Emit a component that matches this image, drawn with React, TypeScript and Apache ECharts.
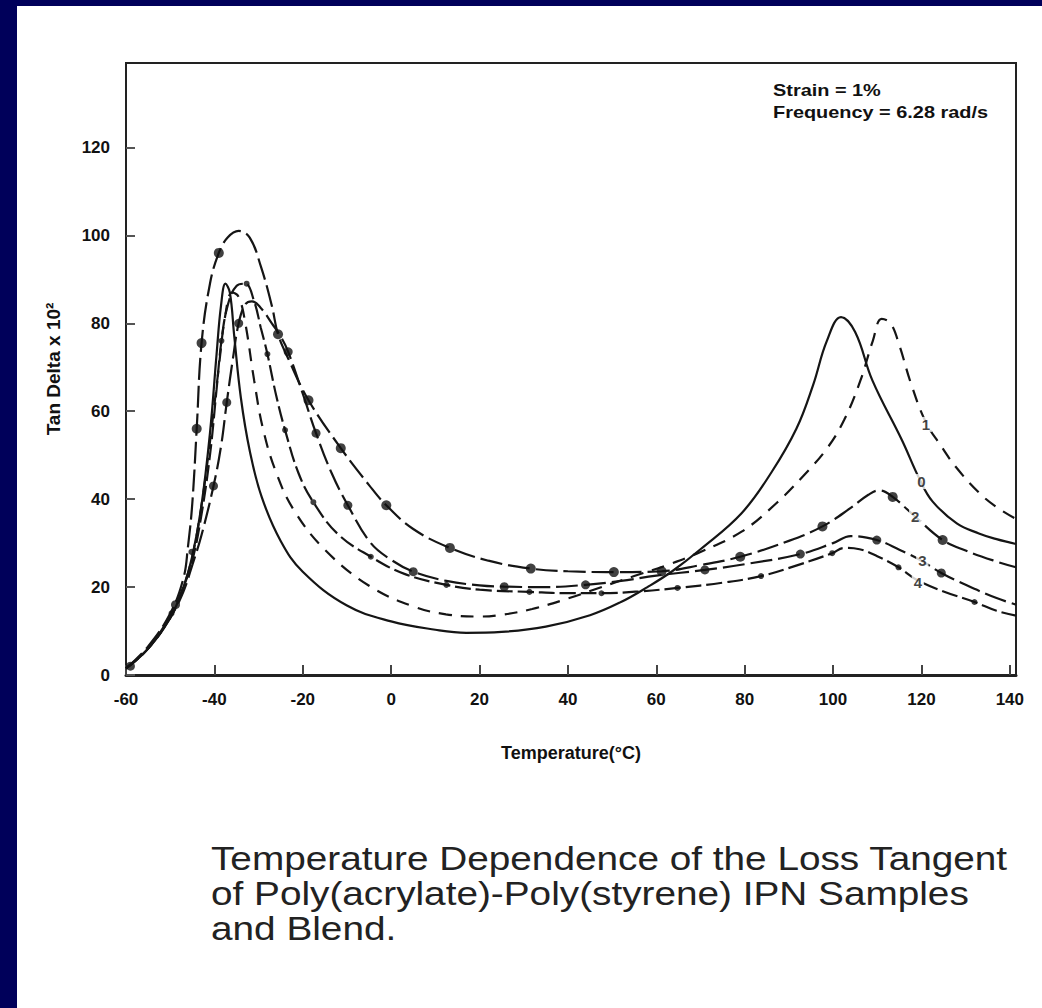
import React, { useEffect, useRef } from "react";
import * as echarts from "echarts";

const xTicks = [-60, -40, -20, 0, 20, 40, 60, 80, 100, 120, 140];
const yTicks = [0, 20, 40, 60, 80, 100, 120];

// curve 0 : solid line
const curve0 = [
  [-60, 1.5], [-55, 6], [-50, 13], [-47, 20], [-45, 27], [-43, 38], [-41, 55], [-39.5, 73], [-38.5, 84],
  [-37.5, 89], [-36.5, 87], [-35.5, 77], [-34, 63], [-32, 51], [-29.3, 40.5], [-25, 30.5], [-20, 23.5],
  [-10, 15.8], [0, 12.2], [10, 10.3], [17, 9.6], [25, 9.8], [35, 11], [45, 13.6], [52, 16.6], [58, 20],
  [63.6, 23.6], [70, 28.6], [79.3, 36.8], [86, 46], [91.7, 56], [95.5, 66], [98.6, 76], [101.8, 81.4],
  [105, 78], [108.9, 67], [115.6, 53.4], [119.6, 44.5], [122.5, 39.5], [128, 34.5], [133, 32.2], [137, 30.9],
  [141.4, 29.8],
];
// curve 1 : dashed line
const curve1 = [
  [-60, 1.5], [-55, 6], [-50, 13], [-47, 20], [-45, 27], [-43, 38], [-41, 53], [-39, 70], [-37.5, 82],
  [-36, 87], [-34.5, 86], [-33, 80], [-31, 67], [-29, 56], [-26, 46], [-22, 37.5], [-15, 28.5], [-5, 20.3],
  [5, 15.6], [12.4, 13.8], [20, 13.3], [25, 13.7], [31.9, 15], [40, 17.4], [47, 19.8], [55, 22.5], [63, 25.2],
  [70, 28], [79.3, 32.6], [87.1, 39], [93, 45], [98.6, 51.5], [102.5, 58], [106.2, 67], [109, 76], [111, 81],
  [113, 80], [115, 75], [117.6, 66.4], [121, 57.5], [124.5, 52], [127.8, 47.3], [133, 41.5], [137, 38.2],
  [141.4, 35.5],
];
// curve 2 : large dots
const curve2 = [
  [-60, 1.5], [-55, 6.5], [-50, 14], [-47, 22], [-46, 29], [-45, 39], [-44, 56], [-42.9, 75.5], [-41, 89],
  [-39, 96], [-37, 99.5], [-34.5, 101], [-32, 99.5], [-29.5, 93], [-27, 84], [-25.6, 77.5], [-23.3, 72],
  [-18.7, 62.5], [-11.4, 51.6], [-5, 43.2], [-1.1, 38.6], [5, 33.2], [13.3, 28.9], [22, 26], [31.6, 24.2],
  [40, 23.6], [50.4, 23.4], [61.2, 23.6], [70, 25], [79, 26.9], [90, 30.5], [97.6, 33.8], [104, 38],
  [108, 41], [110.5, 42], [113.5, 40.5], [118.6, 36], [124.8, 30.7], [130, 28.3], [137, 25.8], [141.4, 24.5],
];
// curve 3 : large dots
const curve3 = [
  [-60, 1.5], [-55, 6], [-50, 13], [-47, 19], [-45, 25], [-43, 31.5], [-40.2, 43], [-38.5, 52], [-37.2, 62],
  [-35.8, 72], [-34.5, 80], [-33, 84.3], [-31.5, 85], [-29.5, 83.5], [-27, 80], [-25, 77], [-23.3, 73.5],
  [-20, 64], [-17, 55], [-13.5, 46], [-9.8, 38.6], [-4.6, 30], [0, 26.2], [5, 23.5], [12.5, 21.4], [20, 20.4],
  [25.6, 20.1], [35, 20], [44, 20.5], [52, 21.4], [60, 22.6], [71, 23.9], [80, 25.2], [92.6, 27.5], [100, 30],
  [104, 31.6], [109.9, 30.7], [115, 28.5], [120, 26], [124.5, 23.2], [130, 20.5], [137, 17.5], [141.4, 16],
];
// curve 4 : small dots
const curve4 = [
  [-60, 1.5], [-55, 6], [-50, 13.5], [-47, 20], [-45, 26], [-43, 36], [-41, 50], [-39.5, 65], [-38.4, 76],
  [-37, 84], [-35, 88.5], [-33, 89], [-31, 85], [-29.5, 79], [-28, 73], [-26, 63.5], [-24, 55.7], [-21, 46],
  [-17.6, 39.3], [-12, 32], [-4.6, 26.9], [3, 23], [12.5, 20.5], [20, 19.4], [31.3, 18.9], [40, 18.6],
  [47.6, 18.6], [56, 19], [64.8, 19.8], [75, 21], [83.7, 22.5], [92, 25], [99.8, 27.7], [102.5, 28.9],
  [106, 28.6], [110, 27], [114.8, 24.5], [119.2, 21.5], [125, 19], [132, 16.6], [137, 14.6], [141.4, 13.5],
];

const markers2 = [
  [-44, 56], [-42.9, 75.5], [-39, 96], [-25.6, 77.5], [-18.7, 62.5], [-11.4, 51.6], [-1.1, 38.6], [13.3, 28.9],
  [31.6, 24.2], [50.4, 23.4], [61.2, 23.6], [79, 26.9], [97.6, 33.8], [113.5, 40.5], [124.8, 30.7],
];
const markers3 = [
  [-59, 2], [-48.8, 16], [-40.2, 43], [-37.2, 62], [-34.5, 80], [-23.3, 73.5], [-17, 55], [-9.8, 38.6], [5, 23.5],
  [25.6, 20.1], [44, 20.5], [71, 23.9], [92.6, 27.5], [109.9, 30.7], [124.5, 23.2],
];
const markers4 = [
  [-49.7, 14], [-45.2, 28], [-38.4, 76], [-32.7, 89], [-28, 73], [-24, 55.7], [-17.6, 39.3], [-4.6, 26.9],
  [12.5, 20.5], [31.3, 18.9], [47.6, 18.6], [64.8, 19.8], [83.7, 22.5], [99.8, 27.7], [114.8, 24.5], [132, 16.6],
];

const curveNames = ["0", "1", "2", "3", "4"];
const curveLabelPos = [
  [120, 44], [121, 57], [118.6, 36], [120.2, 26], [119.2, 21],
];

const annotationLines = ["Strain = 1%", "Frequency = 6.28 rad/s"];
const captionLines = [
  "Temperature Dependence of the Loss Tangent",
  "of Poly(acrylate)-Poly(styrene) IPN Samples",
  "and Blend.",
];

const INK = "#151515";
const FONT = "Liberation Sans, Arial, sans-serif";

export default function App() {
  const ref = useRef<HTMLDivElement>(null);
  useEffect(() => {
    const chart = echarts.init(ref.current!, null, { renderer: "svg" });
    const lineSeries = (name: string, data: number[][], type: any) => ({
      name,
      type: "line",
      data,
      smooth: 0.4,
      showSymbol: false,
      symbol: "none",
      lineStyle: { color: INK, width: 2.2, type },
      z: 3,
    });
    const markerSeries = (name: string, data: number[][], size: number) => ({
      name,
      type: "scatter",
      data,
      symbol: "circle",
      symbolSize: size,
      itemStyle: { color: "#111" },
      z: 4,
    });
    chart.setOption({
      animation: false,
      backgroundColor: "#ffffff",
      grid: {
        left: 126,
        right: 26,
        top: 63,
        bottom: 333,
        show: true,
        borderColor: "#222",
        borderWidth: 2,
        backgroundColor: "transparent",
      },
      xAxis: {
        type: "value",
        min: -60,
        max: 141.4,
        interval: 20,
        name: "Temperature(°C)",
        nameLocation: "middle",
        nameGap: 69,
        nameTextStyle: { fontFamily: FONT, fontWeight: "bold", fontSize: 18, color: "#111" },
        axisLine: { show: true, onZero: false, lineStyle: { color: "#222", width: 3 } },
        axisTick: {
          show: true,
          inside: true,
          length: 10,
          customValues: xTicks,
          lineStyle: { color: "#444", width: 2 },
        },
        axisLabel: {
          customValues: xTicks,
          margin: 16,
          fontFamily: FONT,
          fontWeight: "bold",
          fontSize: 17,
          color: "#111",
        },
        splitLine: { show: false },
      },
      yAxis: {
        type: "value",
        min: 0,
        max: 139.2,
        interval: 20,
        name: "Tan Delta x 10²",
        nameLocation: "middle",
        nameGap: 63,
        nameTextStyle: { fontFamily: FONT, fontWeight: "bold", fontSize: 19, color: "#111" },
        axisLine: { show: true, onZero: false, lineStyle: { color: "#222", width: 2 } },
        axisTick: {
          show: true,
          inside: true,
          length: 9,
          customValues: yTicks,
          lineStyle: { color: "#555", width: 2 },
        },
        axisLabel: {
          customValues: yTicks,
          margin: 16,
          fontFamily: FONT,
          fontWeight: "bold",
          fontSize: 17,
          color: "#111",
        },
        splitLine: { show: false },
      },
      series: [
        lineSeries("0", curve0, "solid"),
        lineSeries("1", curve1, [13, 9]),
        lineSeries("2", curve2, [22, 6]),
        lineSeries("3", curve3, [22, 6]),
        lineSeries("4", curve4, [16, 5]),
        markerSeries("2 points", markers2, 10),
        markerSeries("3 points", markers3, 9),
        markerSeries("4 points", markers4, 6),
        {
          name: "curve labels",
          type: "scatter",
          symbolSize: 1,
          itemStyle: { color: "transparent" },
          data: curveLabelPos.map((p, i) => ({ value: p, name: curveNames[i] })),
          label: {
            show: true,
            position: "inside",
            formatter: (p: any) => p.name,
            fontFamily: FONT,
            fontWeight: "bold",
            fontSize: 15,
            color: "#111",
            backgroundColor: "#fff",
            padding: [0, 2],
          },
          z: 6,
        },
      ],
      graphic: [
        { type: "rect", shape: { x: 0, y: 0, width: 1042, height: 6 }, style: { fill: "#00005a" }, z: 10 },
        { type: "rect", shape: { x: 0, y: 0, width: 17, height: 1008 }, style: { fill: "#00005a" }, z: 10 },
        ...annotationLines.map((t, i) => ({
          type: "text",
          x: 773,
          y: 90 + i * 22,
          scaleX: 1.17,
          style: {
            text: t,
            fontFamily: FONT,
            fontWeight: "bold",
            fontSize: 17,
            fill: "#111",
            textVerticalAlign: "middle",
          },
          z: 10,
        })),
        ...captionLines.map((t, i) => ({
          type: "text",
          x: 211,
          y: 858 + i * 35,
          scaleX: 1.14,
          style: {
            text: t,
            fontFamily: FONT,
            fontSize: 34,
            fill: "#222",
            textVerticalAlign: "middle",
          },
          z: 10,
        })),
      ],
    });
    return () => chart.dispose();
  }, []);
  return (
    <div
      ref={ref}
      style={{ position: "fixed", left: 0, top: 0, width: 1042, height: 1008, background: "#fff" }}
    />
  );
}
